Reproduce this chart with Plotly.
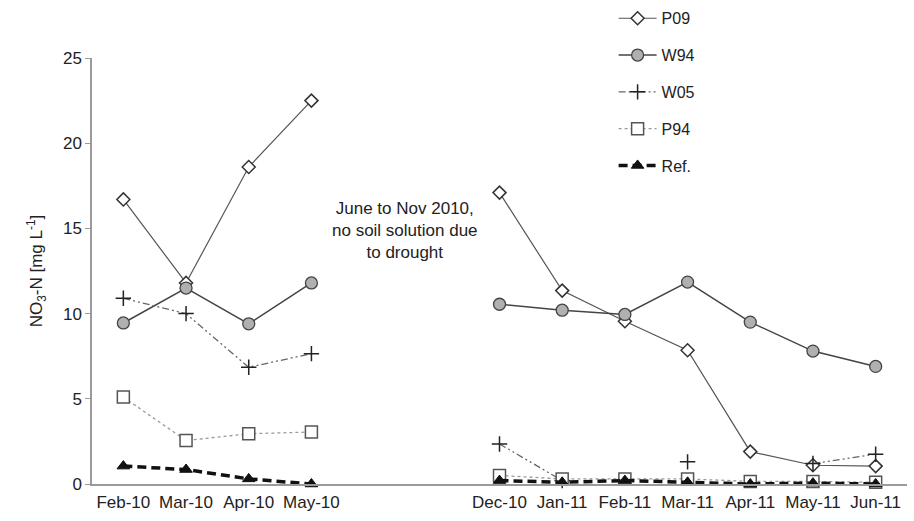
import plotly.graph_objects as go

# Sampling months; two blank slots mark the drought gap (Jun-Nov 2010)
months = ["Feb-10", "Mar-10", "Apr-10", "May-10", "", "",
          "Dec-10", "Jan-11", "Feb-11", "Mar-11", "Apr-11", "May-11", "Jun-11"]
x_pos = list(range(len(months)))

# NO3-N concentrations [mg L-1]; None = no sample
p09 = [16.7, 11.8, 18.6, 22.5, None, None, 17.1, 11.35, 9.55, 7.85, 1.9, 1.1, 1.05]
w94 = [9.45, 11.5, 9.4, 11.8, None, None, 10.55, 10.2, 9.95, 11.85, 9.5, 7.8, 6.9]
w05 = [10.9, 10.0, 6.85, 7.65, None, None, 2.35, 0.2, None, 1.3, None, 1.2, 1.75]
p94 = [5.1, 2.55, 2.95, 3.05, None, None, 0.5, 0.3, 0.3, 0.3, 0.15, 0.15, 0.1]
ref = [1.05, 0.85, 0.3, 0.0, None, None, 0.2, 0.1, 0.2, 0.1, 0.0, 0.05, 0.0]

FONT = "Liberation Sans, Arial, sans-serif"
TXT = "#222222"

fig = go.Figure()

series = [
    ("P09", p09, dict(color="#555555", width=1.2), None,
     dict(symbol="diamond", size=10, color="white", line=dict(color="#333333", width=1.5))),
    ("W94", w94, dict(color="#444444", width=1.5), None,
     dict(symbol="circle", size=12, color="#b0b0b0", line=dict(color="#444444", width=1.3))),
    ("W05", w05, dict(color="#666666", width=1.3), "7px,3px,2px,3px,2px,3px",
     dict(symbol="cross-thin", size=11, color="#222222", line=dict(color="#222222", width=1.5))),
    ("P94", p94, dict(color="#9a9a9a", width=1.3), "3px,3px",
     dict(symbol="square", size=12, color="white", line=dict(color="#555555", width=1.5))),
    ("Ref.", ref, dict(color="#111111", width=3.5), "9px,5px",
     dict(symbol="triangle-up", size=11, color="#111111", line=dict(color="#111111", width=1))),
]

for name, vals, line, dash, marker in series:
    ln = dict(line)
    if dash:
        ln["dash"] = dash
    fig.add_trace(go.Scatter(
        x=x_pos, y=vals, name=name, mode="lines+markers",
        line=ln, marker=marker, legendgroup=name, cliponaxis=False,
        connectgaps=False,
    ))

fig.add_annotation(
    x=4.5, y=14.85, xref="x", yref="y", showarrow=False,
    text="June to Nov 2010,<br>no soil solution due<br>to drought",
    font=dict(family=FONT, size=17, color=TXT), align="center",
)

fig.update_layout(
    width=914, height=521,
    margin=dict(l=92, r=7, t=58, b=37, autoexpand=False),
    paper_bgcolor="white", plot_bgcolor="white",
    font=dict(family=FONT, size=17, color=TXT),
    showlegend=True,
    legend=dict(
        x=0.64, y=1.133, xanchor="left", yanchor="top",
        bgcolor="rgba(0,0,0,0)", tracegroupgap=13,
        font=dict(family=FONT, size=16, color=TXT),
        itemwidth=38,
    ),
    xaxis=dict(
        range=[-0.5, 12.5], tickmode="array", tickvals=x_pos, ticktext=months,
        showline=True, linecolor="#9a9a9a", linewidth=1.5, ticks="",
        showgrid=False, zeroline=False, ticklabelstandoff=2,
        tickfont=dict(family=FONT, size=17, color=TXT),
    ),
    yaxis=dict(
        range=[0, 25], tickvals=[0, 5, 10, 15, 20, 25],
        showline=True, linecolor="#9a9a9a", linewidth=1.5,
        ticks="outside", ticklen=5, tickcolor="#9a9a9a",
        showgrid=False, zeroline=False,
        tickfont=dict(family=FONT, size=17, color=TXT),
        title=dict(text="NO<sub>3</sub>-N [mg L<sup>-1</sup>]",
                   font=dict(family=FONT, size=17, color=TXT), standoff=16),
    ),
)

fig.write_html("out.html")
